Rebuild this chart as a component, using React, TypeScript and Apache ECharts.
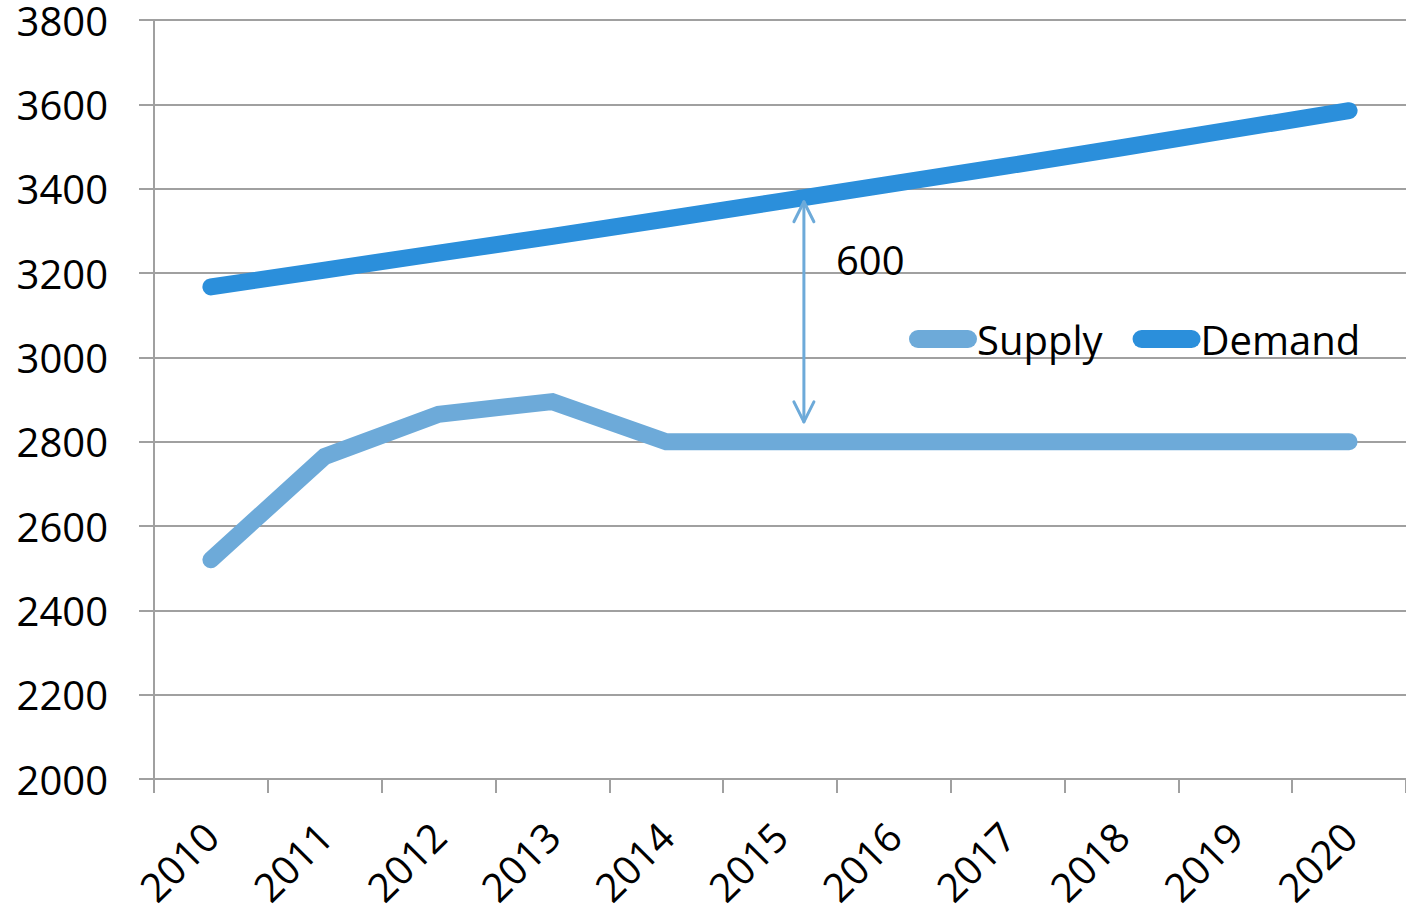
import React, { useEffect, useRef } from "react";
import * as echarts from "echarts";

const years = ["2010", "2011", "2012", "2013", "2014", "2015", "2016", "2017", "2018", "2019", "2020"];
const supply = [2520, 2765, 2865, 2895, 2800, 2800, 2800, 2800, 2800, 2800, 2800];
const demand = [3167, 3207, 3247, 3287, 3328, 3370, 3412, 3454, 3497, 3541, 3585];
const yMin = 2000;
const yMax = 3800;
const yStep = 200;

// gap annotation (between 2015 and 2016)
const gapLabel = "600";
const gapCategoryIndex = 5;
const gapCategoryFraction = 0.21;
const gapTop = 3369;
const gapBottom = 2847;
const gapLabelValue = 3233;

const FONT = "'Open Sans', 'Noto Sans', sans-serif";
const SUPPLY_COLOR = "#6DAAD9";
const DEMAND_COLOR = "#2B8FDB";
const GRID_COLOR = "#A0A0A0";

const legendIcon = "path://M9,0 H59 A9,9 0 0 1 59,18 H9 A9,9 0 0 1 9,0 Z";

export default function App() {
  const ref = useRef<HTMLDivElement>(null);

  useEffect(() => {
    if (!ref.current) return;
    const chart = echarts.init(ref.current, null, { renderer: "svg" });
    chart.setOption({
      animation: false,
      textStyle: { fontFamily: FONT },
      grid: { left: 154, right: -5, top: 20, bottom: 133, containLabel: false },
      legend: {
        left: 909,
        top: 319,
        padding: 0,
        itemWidth: 68,
        itemHeight: 18,
        itemGap: 30,
        icon: legendIcon,
        textStyle: { fontSize: 40, color: "#000", fontFamily: FONT, padding: [0, 0, 0, -5] },
        data: ["Supply", "Demand"],
      },
      xAxis: {
        type: "category",
        data: years,
        boundaryGap: true,
        axisLine: { show: true, lineStyle: { color: GRID_COLOR, width: 2 } },
        axisTick: { show: true, alignWithLabel: false, length: 14, lineStyle: { color: GRID_COLOR, width: 2 } },
        axisLabel: {
          rotate: 45,
          margin: 50,
          fontSize: 40,
          color: "#000",
          fontFamily: FONT,
          interval: 0,
        },
        splitLine: { show: false },
      },
      yAxis: {
        type: "value",
        min: yMin,
        max: yMax,
        interval: yStep,
        axisLine: { show: true, lineStyle: { color: GRID_COLOR, width: 2 } },
        axisTick: { show: true, inside: false, length: 15, lineStyle: { color: GRID_COLOR, width: 2 } },
        axisLabel: {
          margin: 46,
          fontSize: 40,
          lineHeight: 28,
          color: "#000",
          fontFamily: FONT,
          padding: [10, 0, 0, 0],
          formatter: (v: number) => String(v),
        },
        splitLine: { show: true, lineStyle: { color: GRID_COLOR, width: 2 } },
      },
      series: [
        {
          name: "Supply",
          type: "line",
          data: supply,
          symbol: "none",
          color: SUPPLY_COLOR,
          itemStyle: { color: SUPPLY_COLOR },
          lineStyle: { color: SUPPLY_COLOR, width: 17, cap: "round", join: "miter" },
          z: 3,
        },
        {
          name: "Demand",
          type: "line",
          data: demand,
          symbol: "none",
          color: DEMAND_COLOR,
          itemStyle: { color: DEMAND_COLOR },
          lineStyle: { color: DEMAND_COLOR, width: 17, cap: "round", join: "miter" },
          z: 3,
        },
      ],
    });

    const pA = chart.convertToPixel({ gridIndex: 0 }, [gapCategoryIndex, gapTop]) as number[];
    const pB = chart.convertToPixel({ gridIndex: 0 }, [gapCategoryIndex + 1, gapBottom]) as number[];
    const pL = chart.convertToPixel({ gridIndex: 0 }, [gapCategoryIndex, gapLabelValue]) as number[];
    const x = pA[0] + gapCategoryFraction * (pB[0] - pA[0]);
    const yTop = pA[1];
    const yBot = pB[1];
    const arrowStyle = { stroke: SUPPLY_COLOR, lineWidth: 3, fill: "none", lineCap: "round", lineJoin: "round" };
    chart.setOption({
      graphic: [
        { type: "line", shape: { x1: x, y1: yTop, x2: x, y2: yBot }, style: arrowStyle, z: 10 },
        { type: "polyline", shape: { points: [[x - 10, yTop + 20], [x, yTop], [x + 10, yTop + 20]] }, style: arrowStyle, z: 10 },
        { type: "polyline", shape: { points: [[x - 10, yBot - 20], [x, yBot], [x + 10, yBot - 20]] }, style: arrowStyle, z: 10 },
        {
          type: "text",
          x: x + 32,
          y: pL[1],
          style: { text: gapLabel, fontSize: 40, fontFamily: FONT, fill: "#000", verticalAlign: "middle", align: "left" },
          z: 10,
        },
      ],
    });

    return () => chart.dispose();
  }, []);

  return <div ref={ref} style={{ position: "absolute", left: 0, top: 0, width: 1406, height: 912 }} />;
}
